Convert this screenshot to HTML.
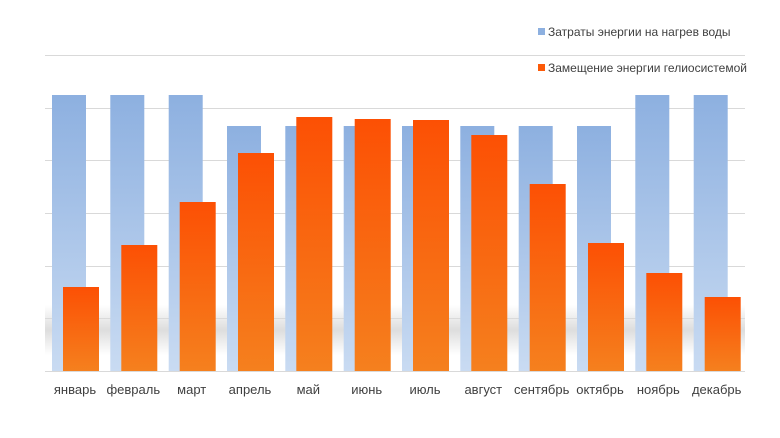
<!DOCTYPE html><html><head><meta charset="utf-8"><style>body{margin:0;background:#fff}svg{display:block}</style></head><body>
<svg width="780" height="438" xmlns="http://www.w3.org/2000/svg" font-family="Liberation Sans, sans-serif">
<defs>
<linearGradient id="b" x1="0" y1="0" x2="0" y2="1"><stop offset="0" stop-color="#8db0e0"/><stop offset="1" stop-color="#c9dbf2"/></linearGradient>
<linearGradient id="o" x1="0" y1="0" x2="0" y2="1"><stop offset="0" stop-color="#fc5004"/><stop offset="1" stop-color="#f5801e"/></linearGradient>
<linearGradient id="s" x1="0" y1="0" x2="0" y2="1"><stop offset="0" stop-color="#fff"/><stop offset="0.5" stop-color="#bbb"/><stop offset="1" stop-color="#fff"/></linearGradient>
</defs>
<g stroke="#d9d9d9" stroke-width="1">
<line x1="45" x2="745" y1="55.5" y2="55.5"/><line x1="45" x2="745" y1="108.5" y2="108.5"/><line x1="45" x2="745" y1="160.5" y2="160.5"/><line x1="45" x2="745" y1="213.5" y2="213.5"/><line x1="45" x2="745" y1="266.5" y2="266.5"/><line x1="45" x2="745" y1="318.5" y2="318.5"/>
</g>
<rect x="45" y="305" width="700" height="50" fill="url(#s)" opacity="0.5"/>
<g fill="url(#b)">
<rect x="52" y="95" width="34" height="276"/>
<rect x="110.3" y="95" width="34" height="276"/>
<rect x="168.7" y="95" width="34" height="276"/>
<rect x="227" y="126" width="34" height="245"/>
<rect x="285.3" y="126" width="34" height="245"/>
<rect x="343.7" y="126" width="34" height="245"/>
<rect x="402" y="126" width="34" height="245"/>
<rect x="460.3" y="126" width="34" height="245"/>
<rect x="518.7" y="126" width="34" height="245"/>
<rect x="577" y="126" width="34" height="245"/>
<rect x="635.3" y="95" width="34" height="276"/>
<rect x="693.7" y="95" width="34" height="276"/>
</g>
<g fill="url(#o)">
<rect x="63" y="287" width="36" height="84"/>
<rect x="121.3" y="245" width="36" height="126"/>
<rect x="179.7" y="202" width="36" height="169"/>
<rect x="238" y="153" width="36" height="218"/>
<rect x="296.3" y="117" width="36" height="254"/>
<rect x="354.7" y="119" width="36" height="252"/>
<rect x="413" y="120" width="36" height="251"/>
<rect x="471.3" y="135" width="36" height="236"/>
<rect x="529.7" y="184" width="36" height="187"/>
<rect x="588" y="243" width="36" height="128"/>
<rect x="646.3" y="273" width="36" height="98"/>
<rect x="704.7" y="297" width="36" height="74"/>
</g>
<line x1="45" x2="745" y1="371.5" y2="371.5" stroke="#d9d9d9"/>
<g font-size="13" fill="#404040" text-anchor="middle">
<text x="75" y="394">январь</text>
<text x="133.3" y="394">февраль</text>
<text x="191.7" y="394">март</text>
<text x="250" y="394">апрель</text>
<text x="308.3" y="394">май</text>
<text x="366.7" y="394">июнь</text>
<text x="425" y="394">июль</text>
<text x="483.3" y="394">август</text>
<text x="541.7" y="394">сентябрь</text>
<text x="600" y="394">октябрь</text>
<text x="658.3" y="394">ноябрь</text>
<text x="716.7" y="394">декабрь</text>
</g>
<rect x="538" y="28" width="7" height="7" fill="#8db0e0"/>
<text x="548" y="36" font-size="12" fill="#404040">Затраты энергии на нагрев воды</text>
<rect x="538" y="64" width="7" height="7" fill="#fc5a08"/>
<text x="548" y="72" font-size="12" fill="#404040">Замещение энергии гелиосистемой</text>
</svg></body></html>
